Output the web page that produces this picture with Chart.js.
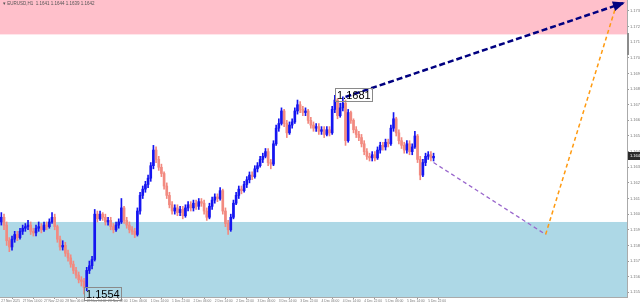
<!DOCTYPE html>
<html>
<head>
<meta charset="utf-8">
<title>EURUSD H1</title>
<script src="https://cdn.jsdelivr.net/npm/chart.js@4.4.1/dist/chart.umd.min.js"></script>
<style>
  html, body { margin: 0; padding: 0; background: #fff; }
  #wrap { width: 640px; height: 305px; }
</style>
</head>
<body>
<div id="wrap"><canvas id="chart" width="640" height="305"></canvas></div>
<script>
const symbolTitle = "EURUSD,H1  1.1641 1.1644 1.1639 1.1642";

// time axis, one label every 8 bars
const timeLabels = [
  "27 Nov 2025", "27 Nov 14:00", "27 Nov 22:00", "28 Nov 06:00", "28 Nov 14:00",
  "28 Nov 22:00", "1 Dec 06:00", "1 Dec 14:00", "1 Dec 22:00", "2 Dec 06:00",
  "2 Dec 14:00", "2 Dec 22:00", "3 Dec 06:00", "3 Dec 14:00", "3 Dec 22:00",
  "4 Dec 06:00", "4 Dec 14:00", "4 Dec 22:00", "5 Dec 06:00", "5 Dec 14:00",
  "5 Dec 22:00"
];

const opens = [
  1.1600,1.1603,1.1598,1.1588,1.1584,1.1589,1.1592,1.1590,1.1594,1.1596,
  1.1597,1.1598,1.1594,1.1593,1.1596,1.1597,1.1595,1.1598,1.1597,1.1600,
  1.1603,1.1597,1.1589,1.1584,1.1585,1.1580,1.1577,1.1573,1.1569,1.1566,
  1.1563,1.1562,1.1558,1.1569,1.1572,1.1576,1.1605,1.1602,1.1605,1.1603,
  1.1600,1.1601,1.1597,1.1595,1.1598,1.1600,1.1609,1.1601,1.1598,1.1595,
  1.1594,1.1592,1.1607,1.1617,1.1621,1.1624,1.1628,1.1636,1.1646,1.1640,
  1.1635,1.1631,1.1623,1.1617,1.1611,1.1607,1.1609,1.1606,1.1608,1.1604,
  1.1609,1.1611,1.1609,1.1612,1.1610,1.1613,1.1612,1.1607,1.1603,1.1610,
  1.1614,1.1616,1.1615,1.1620,1.1607,1.1599,1.1595,1.1603,1.1612,1.1617,
  1.1621,1.1620,1.1624,1.1627,1.1630,1.1629,1.1634,1.1636,1.1640,1.1642,
  1.1645,1.1638,1.1637,1.1650,1.1660,1.1663,1.1671,1.1663,1.1657,1.1662,
  1.1664,1.1671,1.1675,1.1672,1.1670,1.1671,1.1665,1.1662,1.1660,1.1661,
  1.1658,1.1659,1.1656,1.1659,1.1657,1.1672,1.1678,1.1668,1.1673,1.1676,
  1.1652,1.1670,1.1665,1.1659,1.1656,1.1654,1.1650,1.1645,1.1642,1.1641,
  1.1643,1.1641,1.1646,1.1649,1.1648,1.1651,1.1650,1.1660,1.1666,1.1657,
  1.1652,1.1649,1.1646,1.1650,1.1645,1.1648,1.1655,1.1640,1.1630,1.1638,
  1.1642,1.1643,1.1641
];

const highs = [
  1.1606,1.1605,1.1600,1.1590,1.1591,1.1594,1.1594,1.1596,1.1598,1.1599,
  1.1601,1.1600,1.1596,1.1598,1.1600,1.1599,1.1600,1.1600,1.1602,1.1606,
  1.1605,1.1598,1.1591,1.1588,1.1587,1.1582,1.1579,1.1575,1.1571,1.1568,
  1.1565,1.1564,1.1571,1.1575,1.1578,1.1608,1.1607,1.1607,1.1606,1.1605,
  1.1603,1.1603,1.1599,1.1600,1.1602,1.1615,1.1610,1.1603,1.1600,1.1597,
  1.1596,1.1609,1.1619,1.1623,1.1626,1.1630,1.1638,1.1649,1.1648,1.1642,
  1.1637,1.1632,1.1625,1.1619,1.1613,1.1611,1.1611,1.1610,1.1610,1.1611,
  1.1613,1.1613,1.1614,1.1614,1.1615,1.1615,1.1614,1.1609,1.1612,1.1616,
  1.1618,1.1618,1.1622,1.1621,1.1609,1.1601,1.1605,1.1614,1.1619,1.1623,
  1.1623,1.1626,1.1629,1.1632,1.1632,1.1636,1.1638,1.1642,1.1644,1.1647,
  1.1647,1.1640,1.1652,1.1662,1.1666,1.1673,1.1672,1.1665,1.1664,1.1666,
  1.1673,1.1678,1.1677,1.1674,1.1673,1.1672,1.1667,1.1664,1.1663,1.1663,
  1.1661,1.1661,1.1661,1.1661,1.1674,1.1681,1.1679,1.1676,1.1680,1.1678,
  1.1672,1.1671,1.1666,1.1661,1.1658,1.1656,1.1652,1.1647,1.1644,1.1645,
  1.1645,1.1648,1.1651,1.1651,1.1653,1.1653,1.1662,1.1670,1.1667,1.1659,
  1.1654,1.1651,1.1652,1.1652,1.1650,1.1658,1.1656,1.1642,1.1640,1.1644,
  1.1645,1.1645,1.1644
];

const lows = [
  1.1598,1.1595,1.1585,1.1581,1.1582,1.1587,1.1588,1.1589,1.1592,1.1594,
  1.1595,1.1592,1.1591,1.1591,1.1594,1.1593,1.1594,1.1595,1.1596,1.1599,
  1.1595,1.1587,1.1582,1.1582,1.1578,1.1575,1.1571,1.1567,1.1564,1.1561,
  1.1559,1.1554,1.1556,1.1567,1.1570,1.1575,1.1600,1.1601,1.1601,1.1598,
  1.1598,1.1595,1.1593,1.1594,1.1596,1.1599,1.1599,1.1596,1.1593,1.1592,
  1.1590,1.1591,1.1605,1.1615,1.1619,1.1622,1.1626,1.1634,1.1638,1.1633,
  1.1629,1.1621,1.1615,1.1609,1.1605,1.1605,1.1604,1.1604,1.1602,1.1603,
  1.1607,1.1607,1.1607,1.1608,1.1608,1.1610,1.1605,1.1601,1.1602,1.1608,
  1.1612,1.1613,1.1614,1.1605,1.1597,1.1592,1.1594,1.1602,1.1611,1.1615,
  1.1618,1.1619,1.1622,1.1625,1.1627,1.1628,1.1632,1.1635,1.1638,1.1641,
  1.1636,1.1634,1.1636,1.1649,1.1658,1.1662,1.1661,1.1654,1.1656,1.1660,
  1.1663,1.1669,1.1670,1.1668,1.1668,1.1663,1.1660,1.1658,1.1658,1.1656,
  1.1656,1.1654,1.1655,1.1655,1.1656,1.1670,1.1666,1.1667,1.1671,1.1649,
  1.1651,1.1663,1.1657,1.1654,1.1652,1.1648,1.1643,1.1640,1.1639,1.1639,
  1.1639,1.1640,1.1644,1.1646,1.1646,1.1648,1.1649,1.1658,1.1655,1.1650,
  1.1647,1.1644,1.1644,1.1643,1.1643,1.1647,1.1638,1.1627,1.1629,1.1636,
  1.1640,1.1639,1.1639
];

const closes = [
  1.1603,1.1598,1.1588,1.1584,1.1589,1.1592,1.1590,1.1594,1.1596,1.1597,
  1.1598,1.1594,1.1593,1.1596,1.1597,1.1595,1.1598,1.1597,1.1600,1.1603,
  1.1597,1.1589,1.1584,1.1585,1.1580,1.1577,1.1573,1.1569,1.1566,1.1563,
  1.1562,1.1558,1.1569,1.1572,1.1576,1.1605,1.1602,1.1605,1.1603,1.1600,
  1.1601,1.1597,1.1595,1.1598,1.1600,1.1609,1.1601,1.1598,1.1595,1.1594,
  1.1592,1.1607,1.1617,1.1621,1.1624,1.1628,1.1636,1.1646,1.1640,1.1635,
  1.1631,1.1623,1.1617,1.1611,1.1607,1.1609,1.1606,1.1608,1.1604,1.1609,
  1.1611,1.1609,1.1612,1.1610,1.1613,1.1612,1.1607,1.1603,1.1610,1.1614,
  1.1616,1.1615,1.1620,1.1607,1.1599,1.1595,1.1603,1.1612,1.1617,1.1621,
  1.1620,1.1624,1.1627,1.1630,1.1629,1.1634,1.1636,1.1640,1.1642,1.1645,
  1.1638,1.1637,1.1650,1.1660,1.1663,1.1671,1.1663,1.1657,1.1662,1.1664,
  1.1671,1.1675,1.1672,1.1670,1.1671,1.1665,1.1662,1.1660,1.1661,1.1658,
  1.1659,1.1656,1.1659,1.1657,1.1672,1.1678,1.1668,1.1673,1.1676,1.1652,
  1.1670,1.1665,1.1659,1.1656,1.1654,1.1650,1.1645,1.1642,1.1641,1.1643,
  1.1641,1.1646,1.1649,1.1648,1.1651,1.1650,1.1660,1.1666,1.1657,1.1652,
  1.1649,1.1646,1.1650,1.1645,1.1648,1.1655,1.1640,1.1630,1.1638,1.1642,
  1.1643,1.1641,1.1642
];

const priceTicks = [
  1.1555, 1.1565, 1.1575, 1.1585, 1.1595, 1.1605, 1.1615, 1.1625, 1.1635, 1.1645,
  1.1655, 1.1665, 1.1675, 1.1685, 1.1695, 1.1705, 1.1715, 1.1725, 1.1735
];

// target zones (price from, price to)
const sellZone = [1.1720, 1.1760];
const buyZone = [1.1540, 1.1600];

// forecast lines: bar index and price of each end
const purpleX = [162, 204];
const purpleY = [1.1638, 1.1592];
const orangeX = [204, 230];
const orangeY = [1.1592, 1.1736];
const navyX = [129, 233];
const navyY = [1.1680, 1.1740];

// wave point labels
const waveLabelText = ["1.1681", "1.1554"];
const waveLabelBar = [125, 31];
const waveLabelPrice = [1.1681, 1.1554];

const barSlots = 235;
const yMin = 1.1552;
const yMax = 1.1742;

const fontFamily = "'Liberation Sans', Arial, sans-serif";
const upColor = "#1515f0";
const downColor = "#f28a80";

const candleColors = closes.map((c, i) => (c >= opens[i] ? upColor : downColor));
const wickData = lows.map((l, i) => ({ x: i, y: [l, highs[i]] }));
const bodyData = opens.map((o, i) => ({ x: i, y: [o, closes[i]] }));

function pathData(xs, ys) {
  return xs.map((x, i) => ({ x, y: ys[i] }));
}

function forecastLine(xs, ys, color, width, dash) {
  return {
    type: "line",
    data: pathData(xs, ys),
    borderColor: color,
    borderWidth: width,
    borderDash: dash,
    pointRadius: 0,
    fill: false,
    tension: 0,
    order: 0
  };
}

const zonePlugin = {
  id: "zones",
  beforeDatasetsDraw(chart) {
    const { ctx, chartArea: a, scales: { y } } = chart;
    ctx.save();
    ctx.beginPath();
    ctx.rect(a.left, a.top, a.right - a.left, a.bottom - a.top);
    ctx.clip();

    const drawZone = (zone, color) => {
      const top = y.getPixelForValue(zone[1]);
      const bottom = y.getPixelForValue(zone[0]);
      ctx.fillStyle = color;
      ctx.fillRect(a.left, top, a.right - a.left, bottom - top);
    };
    drawZone(sellZone, "#ffc0cb");
    drawZone(buyZone, "#add8e6");
    ctx.restore();
  }
};

const overlayPlugin = {
  id: "overlay",
  afterDatasetsDraw(chart) {
    const { ctx, scales: { x, y } } = chart;

    // arrow head at the end of the navy line
    const x0 = x.getPixelForValue(navyX[0]);
    const y0 = y.getPixelForValue(navyY[0]);
    const x1 = x.getPixelForValue(navyX[1]);
    const y1 = y.getPixelForValue(navyY[1]);
    const ang = Math.atan2(y1 - y0, x1 - x0);
    ctx.save();
    ctx.translate(x1, y1);
    ctx.rotate(ang);
    ctx.fillStyle = "#000080";
    ctx.beginPath();
    ctx.moveTo(2, 0);
    ctx.lineTo(-10, -5);
    ctx.lineTo(-10, 5);
    ctx.closePath();
    ctx.fill();
    ctx.restore();

    // wave labels
    ctx.save();
    ctx.font = "11px " + fontFamily;
    ctx.textBaseline = "middle";
    waveLabelText.forEach((t, k) => {
      const px = Math.round(x.getPixelForValue(waveLabelBar[k]));
      const py = Math.round(y.getPixelForValue(waveLabelPrice[k]));
      const w = ctx.measureText(t).width;
      ctx.strokeStyle = "#8a8a8a";
      ctx.lineWidth = 1;
      ctx.strokeRect(px + 0.5, py - 6.5, Math.round(w) + 3, 13);
      ctx.fillStyle = "#000";
      ctx.fillText(t, px + 2, py + 1);
    });
    ctx.restore();
  },
  afterDraw(chart) {
    const { ctx, chartArea: a, scales: { y } } = chart;
    ctx.save();

    // symbol line top left
    ctx.font = "4.5px " + fontFamily;
    ctx.fillStyle = "#555";
    ctx.textBaseline = "top";
    ctx.fillText("\u25BE " + symbolTitle, 3, 2);

    // shift marker on the price scale
    ctx.fillStyle = "#8c8c8c";
    ctx.fillRect(a.right, 33, 2, 22);

    // current price box
    const last = closes[closes.length - 1];
    const cy = Math.round(y.getPixelForValue(last));
    ctx.fillStyle = "#2a2a2a";
    ctx.fillRect(a.right + 1, cy - 4, 13, 8);
    ctx.fillStyle = "#fff";
    ctx.textBaseline = "middle";
    ctx.font = "4px " + fontFamily;
    ctx.fillText(last.toFixed(5), a.right + 3, cy);
    ctx.restore();
  }
};

new Chart(document.getElementById("chart"), {
  type: "bar",
  data: {
    datasets: [
      forecastLine(navyX, navyY, "#000080", 2.5, [6, 3]),
      forecastLine(purpleX, purpleY, "#9966cc", 1.3, [4, 3]),
      forecastLine(orangeX, orangeY, "#ff9a10", 1.5, [4, 3]),
      {
        data: bodyData,
        backgroundColor: candleColors,
        borderWidth: 0,
        barThickness: 2,
        grouped: false,
        order: 1
      },
      {
        data: wickData,
        backgroundColor: candleColors,
        borderWidth: 0,
        barThickness: 1,
        grouped: false,
        order: 2
      }
    ]
  },
  options: {
    responsive: false,
    animation: false,
    layout: { padding: 0 },
    plugins: {
      legend: { display: false },
      tooltip: { enabled: false }
    },
    scales: {
      x: {
        type: "linear",
        min: -0.5,
        max: barSlots - 0.5,
        offset: false,
        afterBuildTicks: s => {
          s.ticks = timeLabels.map((t, k) => ({ value: k * 8 }));
        },
        afterFit: s => {
          s.height = 8;
          s.paddingLeft = 0;
          s.paddingRight = 0;
        },
        ticks: {
          autoSkip: false,
          maxRotation: 0,
          align: "start",
          padding: 0,
          color: "#777",
          font: { size: 3.3, family: fontFamily },
          callback: (v, k) => timeLabels[k]
        },
        grid: { drawOnChartArea: false, tickLength: 2, color: "#999" },
        border: { color: "#aaa" }
      },
      y: {
        position: "right",
        min: yMin,
        max: yMax,
        afterBuildTicks: s => {
          s.ticks = priceTicks.map(v => ({ value: v }));
        },
        afterFit: s => {
          s.width = 13;
          s.paddingTop = 0;
          s.paddingBottom = 0;
        },
        ticks: {
          padding: 1,
          color: "#777",
          font: { size: 4, family: fontFamily },
          callback: v => v.toFixed(5)
        },
        grid: { drawOnChartArea: false, tickLength: 2, color: "#999" },
        border: { color: "#aaa" }
      }
    }
  },
  plugins: [zonePlugin, overlayPlugin]
});
</script>
</body>
</html>
